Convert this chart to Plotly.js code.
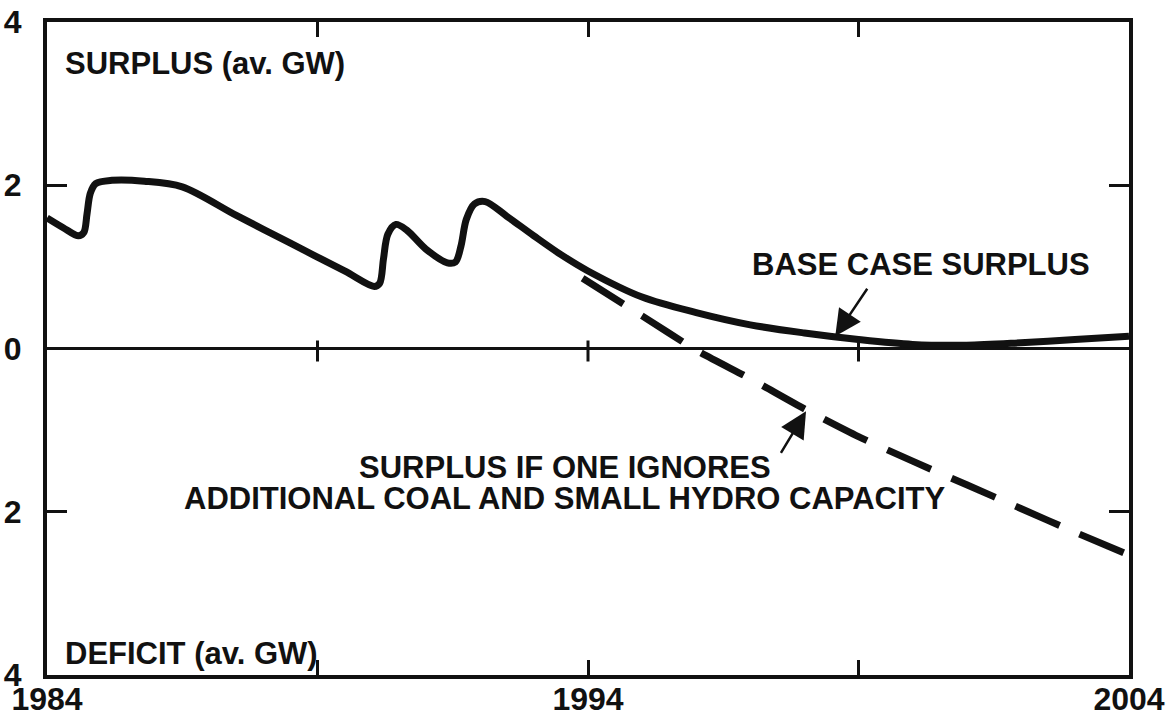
<!DOCTYPE html>
<html>
<head>
<meta charset="utf-8">
<script src="https://cdn.plot.ly/plotly-3.0.1.min.js"></script>
<style>
  html, body { margin: 0; padding: 0; background: #fff; }
  #chart { width: 1169px; height: 717px; }
</style>
</head>
<body>
<div id="chart"></div>
<script>
// ---- Data ----
const baseYears = [1984.00, 1984.30, 1984.58, 1984.68, 1984.74, 1984.80, 1984.90, 1985.20, 1985.80, 1986.50,
                   1987.50, 1988.50, 1989.50, 1990.05, 1990.15, 1990.22, 1990.30, 1990.45, 1990.65, 1991.00,
                   1991.40, 1991.55, 1991.65, 1991.75, 1991.90, 1992.10, 1992.50, 1993.00, 1993.50, 1994.00,
                   1995.00, 1996.00, 1997.00, 1998.00, 1999.00, 2000.00, 2001.00, 2002.00, 2003.00, 2004.00];
const baseSurplus = [1.60, 1.48, 1.38, 1.42, 1.65, 1.90, 2.02, 2.06, 2.05, 1.98,
                     1.63, 1.29, 0.95, 0.76, 0.80, 1.10, 1.40, 1.52, 1.45, 1.22,
                     1.05, 1.06, 1.25, 1.58, 1.77, 1.80, 1.62, 1.38, 1.15, 0.95,
                     0.63, 0.44, 0.29, 0.19, 0.11, 0.05, 0.04, 0.07, 0.11, 0.15];

const ignoreYears = [1993.9, 1995, 1996, 1997, 1998, 1999, 2000, 2001, 2002, 2003, 2004];
const ignoreSurplus = [0.86, 0.40, -0.02, -0.37, -0.74, -1.08, -1.38, -1.67, -1.96, -2.25, -2.53];

const xTickVals = [1984, 1989, 1994, 1999, 2004];
const xTickText = ['1984', '', '1994', '', '2004'];
const yTickVals = [-4, -2, 0, 2, 4];
const yTickText = ['4', '2', '0', '2', '4'];
const zeroLineTickYears = [1989, 1994, 1999];

const labelSurplus = 'SURPLUS (av. GW)';
const labelDeficit = 'DEFICIT (av. GW)';
const labelBase = 'BASE CASE SURPLUS';
const labelIgnore1 = 'SURPLUS IF ONE IGNORES';
const labelIgnore2 = 'ADDITIONAL COAL AND SMALL HYDRO CAPACITY';

// ---- Chart ----
const FONT = 'Liberation Sans, Arial, Helvetica, sans-serif';
const INK = '#111111';

const traces = [
  {
    x: baseYears, y: baseSurplus, type: 'scatter', mode: 'lines',
    line: { color: INK, width: 7, shape: 'spline', smoothing: 0.9 },
    hoverinfo: 'skip', showlegend: false
  },
  {
    x: ignoreYears, y: ignoreSurplus, type: 'scatter', mode: 'lines',
    line: { color: INK, width: 7, dash: '48px,22px', shape: 'spline', smoothing: 0.6 },
    hoverinfo: 'skip', showlegend: false
  }
];

const shapes = zeroLineTickYears.map(yr => ({
  type: 'line', xref: 'x', yref: 'y', ysizemode: 'pixel', yanchor: 0,
  x0: yr, x1: yr, y0: -13, y1: 8,
  line: { color: INK, width: 3 }
}));

const annFont = { family: FONT, size: 31, color: INK, weight: 'bold' };

const annotations = [
  { text: labelSurplus, xref: 'paper', yref: 'paper', x: 0.0148, y: 0.936,
    xanchor: 'left', yanchor: 'middle', showarrow: false, font: annFont },
  { text: labelDeficit, xref: 'paper', yref: 'paper', x: 0.0148, y: 0.033,
    xanchor: 'left', yanchor: 'middle', showarrow: false, font: annFont },
  { text: labelBase, xref: 'paper', yref: 'paper', x: 0.6497, y: 0.629,
    xanchor: 'left', yanchor: 'middle', showarrow: false, font: annFont },
  { text: labelIgnore1, xref: 'paper', yref: 'paper', x: 0.4787, y: 0.317,
    xanchor: 'center', yanchor: 'middle', showarrow: false, font: annFont },
  { text: labelIgnore2, xref: 'paper', yref: 'paper', x: 0.4787, y: 0.271,
    xanchor: 'center', yanchor: 'middle', showarrow: false, font: annFont },
  // arrows
  { text: '', xref: 'x', yref: 'y', x: 1998.57, y: 0.15, ax: 33, ay: -49,
    showarrow: true, arrowhead: 2, arrowsize: 2.1, arrowwidth: 2.5, arrowcolor: INK },
  { text: '', xref: 'x', yref: 'y', x: 1998.03, y: -0.77, ax: -26, ay: 43,
    showarrow: true, arrowhead: 2, arrowsize: 2.1, arrowwidth: 2.5, arrowcolor: INK }
];

const layout = {
  width: 1169, height: 717,
  margin: { l: 47, r: 40, t: 22, b: 42, pad: 0 },
  paper_bgcolor: '#ffffff', plot_bgcolor: '#ffffff',
  showlegend: false,
  font: { family: FONT, color: INK },
  xaxis: {
    range: [1984, 2004], tickvals: xTickVals, ticktext: xTickText,
    ticks: 'inside', ticklen: 15, tickwidth: 3, tickcolor: INK,
    showline: true, linewidth: 4, linecolor: INK, mirror: 'ticks',
    showgrid: false, zeroline: false,
    ticklabelstandoff: -7,
    tickfont: { family: FONT, size: 32, color: INK, weight: 'bold' },
    fixedrange: true
  },
  yaxis: {
    range: [-4, 4], tickvals: yTickVals, ticktext: yTickText,
    ticks: 'inside', ticklen: 20, tickwidth: 3, tickcolor: INK,
    showline: true, linewidth: 4, linecolor: INK, mirror: 'ticks',
    showgrid: false, zeroline: true, zerolinewidth: 3, zerolinecolor: INK,
    ticklabelstandoff: 15,
    tickfont: { family: FONT, size: 32, color: INK, weight: 'bold' },
    fixedrange: true
  },
  shapes: shapes,
  annotations: annotations
};

Plotly.newPlot('chart', traces, layout, { displayModeBar: false, staticPlot: true });
</script>
</body>
</html>
